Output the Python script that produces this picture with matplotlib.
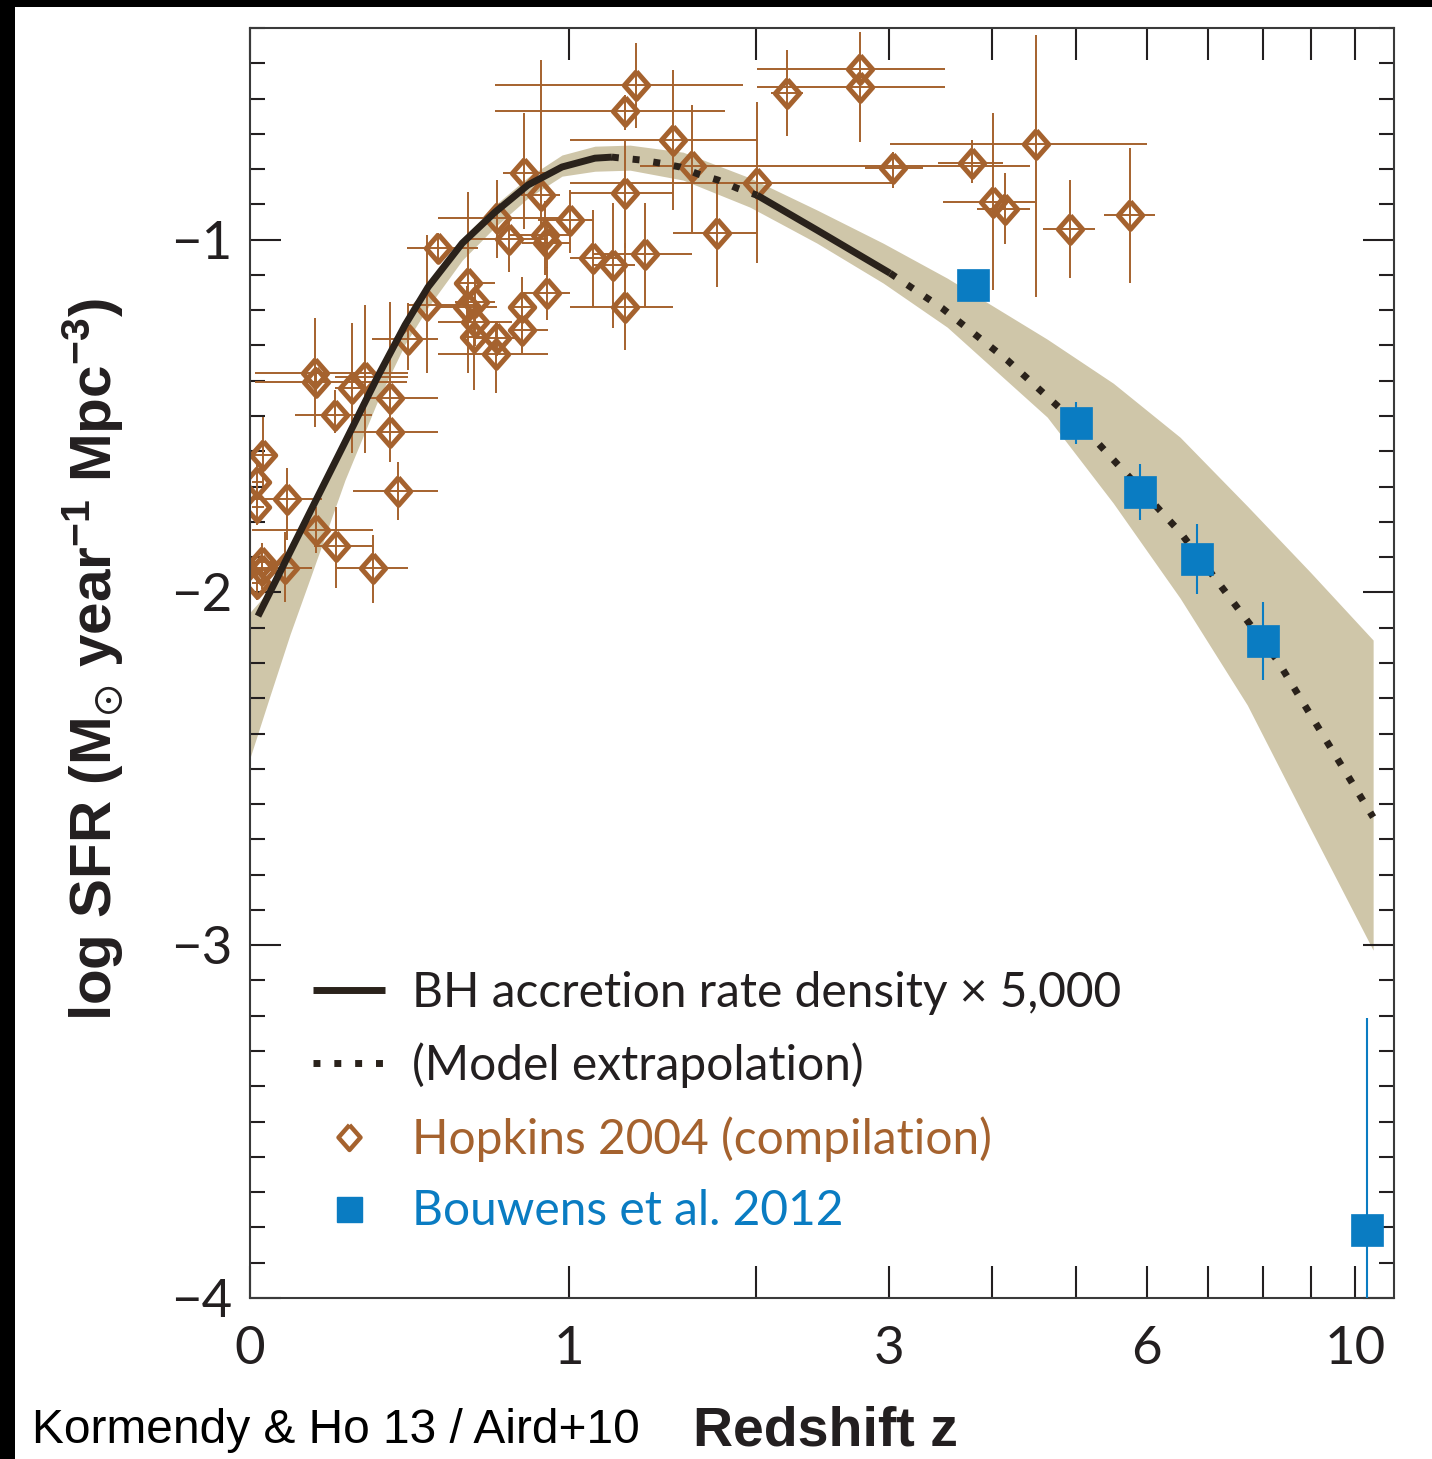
import numpy as np
import matplotlib.pyplot as plt
from matplotlib import font_manager
from matplotlib.lines import Line2D
from matplotlib.patches import Rectangle
from matplotlib.ticker import MultipleLocator, NullLocator

# star formation rate density vs redshift, with BH accretion history

# BH accretion rate density x 5000 (log), model curve
bh_z = [0.0175, 0.0626, 0.0906, 0.144, 0.229, 0.320, 0.400, 0.472, 0.585, 0.702,
        0.828, 0.968, 1.114, 1.193, 1.331, 1.435, 1.543, 1.644, 1.761, 1.877,
        2.005, 2.423, 3.010, 3.489, 4.170, 5.285, 6.525, 8.289, 10.44]
bh_sfr = [-2.067, -1.954, -1.886, -1.761, -1.574, -1.387, -1.242, -1.134, -1.010, -0.922,
          -0.845, -0.794, -0.769, -0.766, -0.774, -0.783, -0.794, -0.814, -0.831, -0.854,
          -0.874, -0.973, -1.095, -1.194, -1.341, -1.574, -1.829, -2.192, -2.637]

# uncertainty band around the accretion history
band_z = [0.0, 0.044, 0.091, 0.144, 0.229, 0.320, 0.400, 0.472, 0.585, 0.702,
          0.828, 0.968, 1.114, 1.281, 1.559, 1.960, 2.423, 2.951, 3.540, 4.640,
          5.510, 6.525, 7.706, 8.979, 10.44]
band_hi = [-2.056, -1.993, -1.874, -1.749, -1.562, -1.375, -1.231, -1.123, -0.996, -0.902,
           -0.823, -0.760, -0.735, -0.732, -0.752, -0.825, -0.916, -1.010, -1.109, -1.282,
           -1.407, -1.560, -1.755, -1.942, -2.135]
band_lo = [-2.469, -2.294, -2.118, -1.945, -1.681, -1.455, -1.296, -1.191, -1.058, -0.964,
           -0.882, -0.820, -0.806, -0.803, -0.831, -0.908, -1.010, -1.123, -1.248, -1.503,
           -1.747, -2.016, -2.319, -2.668, -3.014]

# Hopkins 2004 compilation
hop_z = [1.311, 1.256, 1.505, 1.610, 2.005, 1.256, 1.755, 2.207, 2.757, 2.757,
         3.037, 3.792, 4.507, 4.016, 4.148, 4.930, 5.751, 0.813, 0.880, 0.710,
         1.003, 0.754, 0.897, 0.905, 0.504, 1.106, 1.199, 1.357, 0.606, 0.905,
         1.256, 0.469, 0.602, 0.630, 0.805, 0.630, 0.626, 0.710, 0.805, 0.706,
         0.409, 0.152, 0.154, 0.248, 0.284, 0.355, 0.203, 0.355, 0.379, 0.029,
         0.015, 0.015, 0.084, 0.154, 0.205, 0.306, 0.026, 0.026, 0.079, 0.015]
hop_sfr = [-0.562, -0.636, -0.718, -0.791, -0.840, -0.868, -0.981, -0.585, -0.517, -0.567,
           -0.797, -0.783, -0.729, -0.893, -0.913, -0.970, -0.930, -0.811, -0.874, -0.939,
           -0.945, -0.998, -0.987, -1.010, -1.024, -1.052, -1.072, -1.041, -1.123, -1.151,
           -1.191, -1.185, -1.191, -1.177, -1.191, -1.234, -1.276, -1.279, -1.256, -1.324,
           -1.282, -1.378, -1.404, -1.421, -1.389, -1.449, -1.497, -1.545, -1.713, -1.611,
           -1.687, -1.758, -1.735, -1.823, -1.868, -1.931, -1.914, -1.936, -1.931, -1.973]
hop_zmin = [0.702, 0.702, 1.003, 1.33, 1.003, 1.003, 1.505, 2.10, 2.005, 2.005,
            2.799, 3.451, 3.010, 3.500, 3.845, 4.591, 5.382, 0.732, 0.80, 0.504,
            0.868, 0.606, 0.758, 0.805, 0.406, 1.003, 1.106, 1.106, 0.561, 0.805,
            1.003, 0.409, 0.504, 0.56, 0.758, 0.504, 0.58, 0.63, 0.766, 0.504,
            0.303, 0.011, 0.011, 0.203, 0.203, 0.289, 0.103, 0.250, 0.250, 0.004,
            0.004, 0.004, 0.004, 0.004, 0.15, 0.208, 0.004, 0.004, 0.004, 0.004]
hop_zmax = [1.915, 1.804, 2.005, 4.43, 3.037, 1.505, 2.005, 2.32, 3.519, 3.519,
            3.309, 4.126, 6.003, 4.495, 4.435, 5.258, 6.128, 0.897, 0.96, 0.951,
            1.106, 0.909, 1.003, 1.003, 0.640, 1.223, 1.306, 1.610, 0.702, 1.003,
            1.505, 0.640, 0.710, 0.70, 0.856, 0.766, 0.67, 0.79, 0.909, 0.909,
            0.504, 0.409, 0.406, 0.306, 0.409, 0.504, 0.303, 0.504, 0.504, 0.06,
            0.03, 0.03, 0.169, 0.306, 0.306, 0.409, 0.05, 0.05, 0.144, 0.03]
hop_sfr_min = [-0.684, -0.690, -0.916, -0.979, -1.066, -1.024, -1.134, -0.706, -0.560, -0.723,
               -0.853, -0.840, -1.163, -1.143, -1.013, -1.109, -1.123, -0.970, -0.97, -1.052,
               -1.038, -1.092, -1.10, -1.08, -1.066, -1.191, -1.251, -1.191, -1.378, -1.228,
               -1.313, -1.378, -1.25, -1.25, -1.313, -1.30, -1.426, -1.33, -1.321, -1.435,
               -1.370, -1.531, -1.45, -1.605, -1.605, -1.497, -1.548, -1.63, -1.795, -1.70,
               -1.74, -1.81, -1.852, -1.888, -1.988, -2.030, -1.96, -1.99, -2.027, -2.02]
hop_sfr_max = [-0.443, -0.590, -0.519, -0.619, -0.610, -0.720, -0.837, -0.463, -0.41, -0.530,
               -0.752, -0.718, -0.42, -0.641, -0.811, -0.831, -0.740, -0.641, -0.49, -0.831,
               -0.860, -0.945, -0.89, -0.94, -0.981, -0.916, -0.896, -0.896, -0.865, -1.078,
               -1.010, -0.987, -1.13, -1.10, -1.106, -1.17, -1.163, -1.23, -1.208, -1.234,
               -1.180, -1.222, -1.36, -1.236, -1.185, -1.177, -1.426, -1.46, -1.630, -1.503,
               -1.63, -1.70, -1.647, -1.758, -1.758, -1.837, -1.86, -1.88, -1.829, -1.93]

# Bouwens et al. 2012
bou_z = [3.8, 5.0, 5.9, 6.8, 8.0, 10.3]
bou_sfr = [-1.129, -1.520, -1.715, -1.905, -2.138, -3.807]
bou_err = [0.03, 0.06, 0.08, 0.10, 0.11, 0.60]

z_ticks = list(range(0, 11))
z_ticklabels = ['0', '1', '', '3', '', '', '6', '', '', '', '10']
sfr_ticks = [-4, -3, -2, -1]

brown = '#A5622E'
blue = '#0A7CC2'
tan = '#CFC6A9'
dark = '#2A221B'
ink = '#231F20'

avail = {f.name for f in font_manager.fontManager.ttflist}


def pick(*names):
    for n in names:
        if n in avail:
            return n
    return 'DejaVu Sans'


sans = pick('Lato', 'Open Sans', 'Noto Sans')
heavy = pick('Liberation Sans', 'Noto Sans')
plt.rcParams['font.family'] = [sans, 'DejaVu Sans']
plt.rcParams['mathtext.fontset'] = 'custom'
plt.rcParams['mathtext.rm'] = heavy
plt.rcParams['mathtext.it'] = heavy
plt.rcParams['mathtext.bf'] = heavy + ':bold'
plt.rcParams['mathtext.default'] = 'regular'

fig = plt.figure(figsize=(14.32, 14.59), dpi=100)
ax = fig.add_axes([250 / 1432, 1 - 1298 / 1459, 1144 / 1432, 1270 / 1459])

ax.set_xscale('function', functions=(lambda z: np.log10(1 + np.asarray(z)),
                                     lambda l: 10 ** np.asarray(l) - 1))
ax.set_xlim(0, 10.97)
ax.set_ylim(-4, -0.4)

ax.fill_between(band_z, band_lo, band_hi, color=tan, lw=0, zorder=1)

hz = np.array(hop_z)
hs = np.array(hop_sfr)
xerr = [hz - np.array(hop_zmin), np.array(hop_zmax) - hz]
yerr = [hs - np.array(hop_sfr_min), np.array(hop_sfr_max) - hs]
diamond = [(0, 1), (0.88, 0), (0, -1), (-0.88, 0), (0, 1)]
ax.errorbar(hz, hs, xerr=xerr, yerr=yerr, fmt='none', ecolor=brown,
            elinewidth=1.4, capsize=0, zorder=2)
ax.plot(hz, hs, ls='none', marker=diamond, ms=20, mfc='none', mec=brown,
        mew=3.6, zorder=2.5)

# model curve: measured part solid, extrapolated part dotted
bz = np.array(bh_z)
bs = np.array(bh_sfr)
dots = (0, (1, 2))
ax.plot(bz[:14], bs[:14], color=dark, lw=5, solid_capstyle='butt', zorder=3)
ax.plot(bz[13:21], bs[13:21], color=dark, lw=5, ls=dots, dash_capstyle='butt', zorder=3)
ax.plot(bz[20:23], bs[20:23], color=dark, lw=5, solid_capstyle='butt', zorder=3)
ax.plot(bz[22:], bs[22:], color=dark, lw=5, ls=dots, dash_capstyle='butt', zorder=3)

ax.errorbar(bou_z, bou_sfr, yerr=bou_err, fmt='s', ms=23.5, mfc=blue, mec=blue,
            mew=0.5, ecolor=blue, elinewidth=1.5, capsize=0, zorder=4)

ax.set_xticks(z_ticks)
ax.set_xticklabels(z_ticklabels)
ax.xaxis.set_minor_locator(NullLocator())
ax.set_yticks(sfr_ticks)
ax.yaxis.set_minor_locator(MultipleLocator(0.1))
ax.tick_params(which='both', direction='in', top=True, right=True,
               width=1.5, color=ink, labelcolor=ink)
ax.tick_params(axis='x', which='major', length=23, pad=20, labelsize=38)
ax.tick_params(axis='y', which='major', length=22, pad=13, labelsize=38)
ax.tick_params(axis='y', which='minor', length=11)
for s in ax.spines.values():
    s.set_linewidth(1.5)
    s.set_color('#3a3a3a')

handles = [
    Line2D([], [], color=dark, lw=5, solid_capstyle='butt'),
    Line2D([], [], color=dark, lw=5, ls=dots, dash_capstyle='butt'),
    Line2D([], [], ls='none', marker=diamond, ms=18, mfc='none', mec=brown, mew=3.2),
    Line2D([], [], ls='none', marker='s', ms=18, mfc=blue, mec=blue),
]
labels = ['BH accretion rate density \u00d7 5,000', '(Model extrapolation)',
          'Hopkins 2004 (compilation)', 'Bouwens et al. 2012']
leg = ax.legend(handles, labels, loc='upper left', bbox_to_anchor=(0.055, 0.2577),
                frameon=False, fontsize=34.5, handlelength=1.5, handletextpad=0.56,
                labelspacing=0.58, borderpad=0, borderaxespad=0)
for t, c in zip(leg.get_texts(), [ink, ink, brown, blue]):
    t.set_color(c)

fig.text(93 / 1432, 1 - 660 / 1459, r'log SFR (M$_{\odot}$ year$^{-1}$ Mpc$^{-3}$)',
         rotation=90, ha='center', va='center', fontsize=42, fontweight='bold',
         family=[heavy, 'DejaVu Sans'], color=ink)
fig.text(825 / 1432, 1 - 1446 / 1459, 'Redshift z', ha='center', va='baseline',
         fontsize=40, fontweight='bold', family=[heavy, 'DejaVu Sans'], color=ink)
fig.text(32 / 1432, 1 - 1443 / 1459, 'Kormendy & Ho 13 / Aird+10', ha='left',
         va='baseline', fontsize=34.5, family=['Liberation Sans', 'DejaVu Sans'], color='black')

# dark strips along the top and left edges
fig.add_artist(Rectangle((0, 1 - 7 / 1459), 1, 7 / 1459, transform=fig.transFigure,
                         color='black', lw=0))
fig.add_artist(Rectangle((0, 0), 15 / 1432, 1, transform=fig.transFigure,
                         color='black', lw=0))

fig.savefig('out.png', dpi=100)
